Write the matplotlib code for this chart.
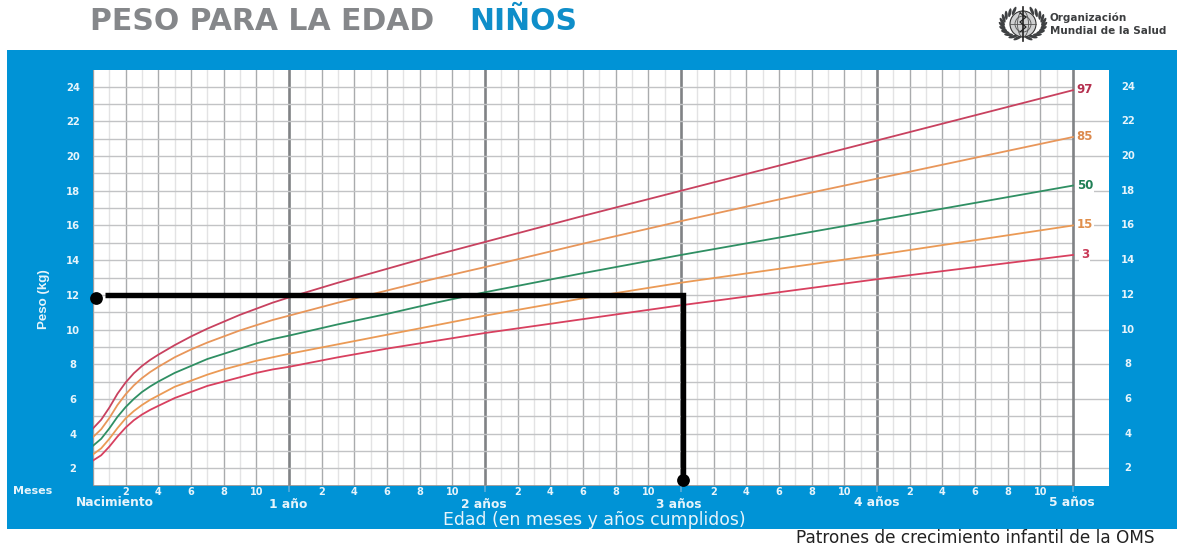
#!/usr/bin/env python3

import numpy as np
import matplotlib
matplotlib.use('Agg')
import matplotlib.pyplot as plt
from matplotlib.patches import Rectangle, Circle, Ellipse

W, H = 1177, 546

# WHO weight for age, boys
months = [0, 0.5, 1, 1.5, 2, 2.5, 3, 3.5, 4, 5, 6, 7, 8, 9, 10, 11, 12, 15, 18, 21, 24, 30, 36, 42, 48, 54, 60]
p97 = [4.3, 4.8, 5.5, 6.3, 6.95, 7.48, 7.9, 8.25, 8.55, 9.1, 9.6, 10.05, 10.45, 10.85, 11.2, 11.55, 11.85, 12.7, 13.5, 14.3, 15.05, 16.55, 18.0, 19.45, 20.9, 22.35, 23.8]
p85 = [3.8, 4.25, 4.9, 5.65, 6.27, 6.78, 7.2, 7.55, 7.85, 8.4, 8.85, 9.25, 9.6, 9.95, 10.25, 10.55, 10.8, 11.55, 12.25, 12.95, 13.6, 14.95, 16.25, 17.5, 18.7, 19.9, 21.1]
p50 = [3.3, 3.7, 4.3, 4.97, 5.53, 6.0, 6.4, 6.72, 7.0, 7.5, 7.9, 8.3, 8.6, 8.9, 9.2, 9.45, 9.65, 10.3, 10.9, 11.55, 12.15, 13.25, 14.3, 15.3, 16.3, 17.3, 18.3]
p15 = [2.8, 3.15, 3.7, 4.32, 4.88, 5.3, 5.65, 5.95, 6.2, 6.7, 7.05, 7.4, 7.7, 7.95, 8.2, 8.4, 8.6, 9.15, 9.7, 10.25, 10.8, 11.8, 12.7, 13.5, 14.3, 15.15, 16.0]
p03 = [2.45, 2.75, 3.25, 3.83, 4.35, 4.77, 5.1, 5.37, 5.6, 6.05, 6.4, 6.75, 7.0, 7.25, 7.5, 7.7, 7.85, 8.4, 8.9, 9.35, 9.8, 10.6, 11.4, 12.15, 12.9, 13.6, 14.3]

series = [('97', p97, '#c8415f', '#b5304f'),
          ('85', p85, '#e8965a', '#dc8a4e'),
          ('50', p50, '#2f8f63', '#1f7f55'),
          ('15', p15, '#eb9a55', '#e08f4c'),
          ('3', p03, '#d8405f', '#c93a58')]

kg_ticks = list(range(2, 25, 2))
month_labels = [2, 4, 6, 8, 10]
year_labels = ['1 año', '2 años', '3 años', '4 años', '5 años']
year_label_x = [288, 484, 679, 877, 1072]
year_label_y = [504, 504, 504, 503, 503]

# reading drawn over the chart in black
read_x = [0.73, 36.1, 36.1]
read_y = [12.0, 12.0, 1.3]
dots_x = [0.17, 36.1]
dots_y = [11.82, 1.3]

BLUE = '#0093d6'
WHITE_TXT = '#e6f4fb'
WIDE = ['DejaVu Sans']

fig = plt.figure(figsize=(W / 100, H / 100), dpi=100, facecolor='white')
fig.patches.append(Rectangle((7 / W, 1 - 529 / H), 1 - 7 / W, 479.5 / H, transform=fig.transFigure,
                             facecolor=BLUE, edgecolor='none', zorder=0))


def px(x, y, s, **kw):
    # text placed in image pixels
    kw.setdefault('family', WIDE)
    kw.setdefault('ha', 'center')
    kw.setdefault('va', 'center')
    return fig.text(x / W, 1 - y / H, s, **kw)


left, right, top, bottom = 93, 1108.5, 70, 486
ax = fig.add_axes([left / W, 1 - bottom / H, (right - left) / W, (bottom - top) / H], zorder=2)
ax.set_facecolor('white')
ax.set_xlim(0, (right - left) / (980 / 60))
y_per_px = 22 / 381.6
ax.set_ylim(2 - (486 - 468.3) * y_per_px, 24 + (86.7 - 70) * y_per_px)
for s in ax.spines.values():
    s.set_visible(False)
y0, y1 = ax.get_ylim()
xfrac = 60 / ax.get_xlim()[1]

# grid, verticals stop at 60 months, even kg lines run on to the edge
for k in range(2, 25):
    xmax = 1 if k % 2 == 0 and k < 24 else xfrac
    ax.axhline(k, xmin=0, xmax=xmax, color='#c2c3c5', lw=1.0, zorder=1)
for m in range(0, 61):
    if m % 12 == 0 and m > 0:
        c, lw = '#808285', 1.9
    elif m % 2 == 0:
        c, lw = '#a9abad', 1.0
    else:
        c, lw = '#e3e3e4', 1.0
    ax.plot([m, m], [y0, y1], color=c, lw=lw, zorder=2.5 if m == 60 else 0.9)
ax.plot([0, 0], [y0, y1], color='#9a9c9e', lw=1.2, zorder=1.6)
ax.axhline(y0, color='#8d8f91', lw=1.2, xmax=xfrac, zorder=1.6)

for name, vals, col, txt in series:
    ax.plot(months, vals, color=col, lw=1.3, zorder=3)
    ax.text(60.72, vals[-1] + 0.03, name, color=txt, fontsize=8.5, fontweight='bold',
            family=WIDE, va='center', ha='center', zorder=2,
            bbox=dict(facecolor='white', edgecolor='none', pad=1.0))

ax.plot(read_x, read_y, color='black', lw=3.9, solid_joinstyle='miter', solid_capstyle='butt', zorder=5)
ax.plot(dots_x, dots_y, 'o', color='black', ms=9.2, mec='none', zorder=6, clip_on=False)

ax.set_yticks(kg_ticks)
ax.set_yticklabels([str(k) for k in kg_ticks], color=WHITE_TXT, fontsize=7.2, fontweight='bold', family=WIDE,
                   ha='center')
ax.tick_params(axis='y', length=0, pad=14.4)
for k in kg_ticks:
    px(1128, 468.3 - (k - 2) / y_per_px, str(k), color=WHITE_TXT, fontsize=7.2, fontweight='bold')

xt = [y * 12 + m for y in range(5) for m in month_labels]
ax.set_xticks(xt)
ax.set_xticklabels([str(m) for y in range(5) for m in month_labels], color=WHITE_TXT, fontsize=7,
                   fontweight='bold', family=WIDE)
ax.tick_params(axis='x', length=0, pad=0.5)
ax.set_xticks([12, 24, 36, 48, 60], minor=True)
ax.tick_params(axis='x', which='minor', length=4, width=1.4, color='#4fa9da')

px(32.5, 491, 'Meses', color=WHITE_TXT, fontsize=8, fontweight='bold')
px(115, 502, 'Nacimiento', color=WHITE_TXT, fontsize=8.8, fontweight='bold')
for xp, yp, s in zip(year_label_x, year_label_y, year_labels):
    px(xp, yp, s, color=WHITE_TXT, fontsize=8.8, fontweight='bold')
px(594, 520, 'Edad (en meses y años cumplidos)', color=WHITE_TXT, fontsize=12.4)
px(43.5, 299, 'Peso (kg)', color=WHITE_TXT, fontsize=9.6, fontweight='bold', rotation=90,
   family=['Liberation Sans Narrow', 'Liberation Sans'])

px(90, 21, 'PESO PARA LA EDAD', color='#85878a', fontsize=21.5, fontweight='bold', ha='left')
px(469, 21, 'NIÑOS', color='#0f8ec9', fontsize=21.5, fontweight='bold', ha='left')
px(975.5, 538, 'Patrones de crecimiento infantil de la OMS', color='#222222', fontsize=12.2)
px(1050, 18, 'Organización', color='#3c3e40', fontsize=7.5, fontweight='bold', ha='left')
px(1050, 31.5, 'Mundial de la Salud', color='#3c3e40', fontsize=7.5, fontweight='bold', ha='left')

# WHO emblem, rough
logo = fig.add_axes([994 / W, 1 - 42 / H, 58 / W, 36 / H], zorder=3)
logo.set_xlim(-29, 29)
logo.set_ylim(-18, 18)
logo.set_aspect('equal')
logo.axis('off')
for side in (-1, 1):
    for a in np.linspace(-75, 65, 11):
        t = np.radians(a)
        logo.add_patch(Ellipse((side * 21 * np.cos(t), 14.5 * np.sin(t)), 9, 3, angle=side * (a + 50),
                               facecolor='#3f4143', edgecolor='none'))
logo.add_patch(Circle((0, 0), 13, facecolor='#d0d1d2', edgecolor='#333', lw=0.8))
logo.add_patch(Circle((0, 0), 8, facecolor='none', edgecolor='#555', lw=0.6))
logo.add_patch(Ellipse((0, 0), 11, 26, facecolor='none', edgecolor='#555', lw=0.6))
logo.plot([-13, 13], [0, 0], color='#555', lw=0.6)
logo.plot([0, 0], [-17, 17], color='#222', lw=1.2)
logo.plot([-3, 3, -3, 3, -3], [-8, -3, 2, 7, 11], color='#222', lw=0.9)

fig.savefig('out.png', dpi=100)
